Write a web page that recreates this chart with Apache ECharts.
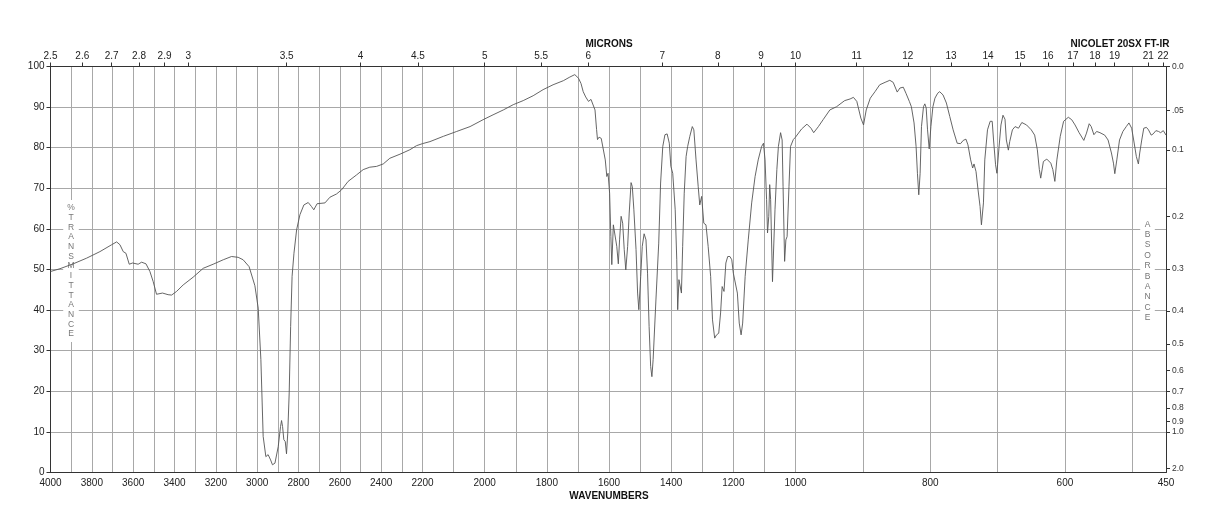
<!DOCTYPE html>
<html>
<head>
<meta charset="utf-8">
<script src="https://cdn.jsdelivr.net/npm/echarts@6/dist/echarts.min.js"></script>
<style>
html, body { margin: 0; padding: 0; background: #fff; }
#main { width: 1218px; height: 528px; }
</style>
</head>
<body>
<div id="main"></div>
<script>
// spectrum (cm-1, %T)
var wavenumbers = [
  4000, 3954, 3890, 3825, 3761, 3704, 3680, 3664, 3648, 3635, 3619, 3603, 3576, 3559, 3538, 3519,
  3503, 3487, 3458, 3431, 3414, 3390, 3358, 3310, 3261, 3213, 3164, 3124, 3092, 3068, 3039, 3011,
  2995, 2982, 2971, 2958, 2947, 2935, 2926, 2914, 2898, 2887, 2882, 2877, 2871, 2864, 2858, 2852,
  2845, 2838, 2831, 2822, 2809, 2793, 2774, 2753, 2737, 2726, 2710, 2672, 2648, 2616, 2592, 2560,
  2519, 2487, 2455, 2422, 2390, 2358, 2309, 2261, 2229, 2200,
  2176, 2133, 2090, 2047, 2005, 1973, 1940, 1908, 1876, 1844, 1812, 1780, 1747, 1726, 1710, 1698,
  1690, 1683, 1675, 1666, 1658, 1652, 1645, 1640, 1637, 1632, 1625, 1620, 1612, 1607, 1603, 1598,
  1594, 1591, 1586, 1580, 1575, 1570, 1566, 1561, 1556, 1551, 1546, 1540, 1535, 1529, 1525, 1520,
  1513, 1508, 1504, 1498, 1493, 1487, 1481, 1476, 1471, 1466, 1462, 1458, 1449, 1440, 1434, 1427,
  1420, 1413, 1406, 1401, 1395, 1391, 1387, 1382, 1379, 1375, 1372, 1367, 1363, 1358, 1352, 1347,
  1340, 1332, 1327, 1320, 1313, 1308, 1302, 1295, 1288, 1281, 1273, 1267, 1260, 1254, 1247, 1241,
  1236, 1230, 1224, 1218, 1211, 1205, 1200, 1194, 1187, 1181, 1175, 1170, 1162, 1152, 1141, 1130,
  1120, 1109, 1103, 1098, 1093, 1090, 1086, 1083, 1080, 1074, 1066, 1060, 1055, 1048, 1043, 1040,
  1035, 1031, 1027, 1021, 1016, 1007, 1000,
  998, 991, 983, 977, 973, 966, 959, 949, 939, 927, 919, 914, 909, 903, 899, 895,
  889, 882, 875, 867, 860, 855, 849, 845, 840, 836, 831, 828, 824, 821, 819, 817,
  815, 813, 810, 808, 806, 804, 801.5, 799, 796, 793, 789, 786, 781, 776, 771, 766,
  760, 755, 751, 747, 744, 740, 737, 735, 732, 729, 726, 724, 721, 719, 715, 711,
  708, 706, 703, 701, 698, 695, 692, 689, 687, 684, 682, 678, 674, 669, 664, 657,
  650, 645, 641, 638, 636, 632, 627, 621, 618, 615, 612, 607, 602, 595, 590, 585,
  579, 572, 568, 564, 561, 557, 553, 548, 541, 536, 531, 528, 526, 523, 519, 514,
  509, 505, 501, 498, 494, 491, 489, 486, 483, 479, 476, 472, 469, 465, 461, 458,
  454, 450
];
var transmittance = [
  49.5, 50.2, 51.4, 52.8, 54.4, 56.1, 56.8, 56.1, 54.4, 54.0, 51.3, 51.6, 51.3, 51.8, 51.4, 49.5,
  47.0, 43.9, 44.2, 43.8, 43.7, 44.6, 46.2, 48.1, 50.3, 51.3, 52.4, 53.2, 53.0, 52.4, 50.7, 46.0,
  40.5, 27.8, 8.9, 3.9, 4.4, 3.1, 1.9, 2.3, 6.4, 11.3, 12.8, 11.3, 8.1, 7.6, 4.6, 9.7,
  19.6, 36.0, 48.3, 54.0, 59.8, 63.5, 65.9, 66.5, 65.5, 64.7, 66.2, 66.4, 67.8, 68.6, 69.6, 71.7,
  73.3, 74.6, 75.2, 75.4, 76.0, 77.4, 78.4, 79.5, 80.5, 81.0,
  81.5, 82.8, 84.0, 85.2, 86.9, 88.1, 89.3, 90.6, 91.6, 92.8, 94.3, 95.5, 96.5, 97.4, 98.0, 97.1,
  95.8, 93.8, 92.5, 91.4, 91.9, 91.6, 89.3, 84.5, 82.0, 82.6, 82.3, 82.0, 77.0, 72.9, 73.7, 68.8,
  58.1, 51.2, 61.0, 61.4, 55.7, 51.4, 57.3, 63.1, 61.4, 54.9, 49.9, 55.7, 63.9, 71.4, 70.4, 64.7,
  54.9, 44.2, 40.1, 48.3, 55.7, 58.8, 57.3, 49.1, 36.0, 26.1, 23.6, 27.8, 42.5, 56.5, 71.3, 80.3,
  83.2, 83.4, 81.1, 75.4, 73.7, 73.3, 64.7, 52.4, 40.1, 47.5, 47.9, 44.2, 55.7, 68.8, 77.8, 80.3,
  82.8, 85.2, 84.4, 77.0, 70.4, 65.9, 68.0, 61.4, 61.0, 55.7, 48.3, 37.6, 33.1, 33.9, 34.3, 39.3,
  45.8, 44.6, 51.6, 53.2, 53.2, 52.4, 49.1, 48.7, 44.2, 36.8, 33.9, 36.8, 48.3, 57.3, 66.4, 72.9,
  77.0, 80.3, 81.1, 77.0, 67.2, 59.0, 63.1, 70.9, 67.2, 47.0, 64.7, 74.6, 80.3, 83.7, 81.9, 70.4,
  52.0, 57.3, 58.1, 70.4, 80.3, 82.0, 82.6,
  82.8, 84.6, 85.8, 84.8, 83.7, 85.2, 86.9, 89.3, 90.1, 91.6, 92.0, 92.4, 91.4, 87.3, 85.6, 89.3,
  92.2, 93.8, 95.5, 96.1, 96.6, 96.1, 93.7, 94.7, 94.9, 93.4, 91.4, 90.1, 86.1, 80.3, 73.7, 68.4,
  73.7, 85.2, 90.1, 90.8, 89.8, 84.4, 79.7, 85.2, 90.1, 92.2, 93.4, 93.8, 93.0, 91.0, 87.7, 84.4,
  81.1, 81.0, 81.8, 82.1, 80.7, 77.0, 75.0, 76.0, 74.1, 69.6, 65.5, 61.0, 66.4, 77.0, 84.4, 86.5,
  86.5, 81.9, 75.8, 73.7, 79.9, 85.6, 88.0, 87.0, 81.9, 79.4, 81.5, 84.4, 85.2, 84.8, 86.2, 85.6,
  84.4, 83.1, 79.5, 74.6, 72.5, 76.6, 77.2, 76.2, 74.6, 71.7, 77.0, 82.8, 86.5, 87.5, 86.9, 85.6,
  83.7, 81.8, 83.6, 85.9, 85.2, 83.2, 84.0, 83.7, 83.1, 81.9, 78.7, 76.2, 73.6, 77.0, 81.9, 84.0,
  85.2, 86.1, 84.8, 81.9, 77.8, 76.0, 78.7, 81.9, 84.8, 85.0, 84.4, 83.1, 83.4, 84.2, 84.0, 83.7,
  84.2, 83.1
];

// the wavenumber scale changes at 2200 and 1000
var segments = [[4000, 2200], [2200, 1000], [1000, 450]];
var wnLabels = [
  [4000, 3800, 3600, 3400, 3200, 3000, 2800, 2600, 2400, 2200],
  [2000, 1800, 1600, 1400, 1200, 1000],
  [800, 600, 450]
];
var microns = [2.5, 2.6, 2.7, 2.8, 2.9, 3, 3.5, 4, 4.5, 5, 5.5, 6, 7, 8, 9, 10,
  11, 12, 13, 14, 15, 16, 17, 18, 19, 21, 22];
var absorbance = [0, 0.05, 0.1, 0.2, 0.3, 0.4, 0.5, 0.6, 0.7, 0.8, 0.9, 1.0, 2.0];
var absorbanceLabels = ['0.0', '.05', '0.1', '0.2', '0.3', '0.4', '0.5', '0.6', '0.7', '0.8', '0.9', '1.0', '2.0'];

var FONT = 'Liberation Sans';
var GRIDLINE = '#a8a8a8';
var AXIS = '#333';
var boxes = [{ left: 50.5, width: 372 }, { left: 422.5, width: 373 }, { left: 795.5, width: 370.5 }];

var grids = [], xAxes = [], yAxes = [], series = [];
var usedMicrons = {};

segments.forEach(function (seg, i) {
  var hi = seg[0], lo = seg[1];
  grids.push({ left: boxes[i].left, width: boxes[i].width, top: 66.5, height: 406, outerBoundsMode: 'none' });

  var ticks = [];
  for (var w = Math.ceil(lo / 100) * 100; w <= hi; w += 100) ticks.push(w);

  var mTicks = [];
  microns.forEach(function (m) {
    var wn = 10000 / m;
    if (wn >= lo - 0.01 && wn <= hi + 0.01 && !usedMicrons[m]) { usedMicrons[m] = true; mTicks.push(wn); }
  });

  xAxes.push({
    gridIndex: i, type: 'value', min: lo, max: hi, inverse: true, position: 'bottom',
    axisLine: { show: true, onZero: false, lineStyle: { color: AXIS, width: 1 } },
    axisTick: { show: false, customValues: ticks },
    axisLabel: { customValues: wnLabels[i], margin: 6, fontSize: 10, color: '#222', fontFamily: FONT,
      formatter: function (v) { return String(v); } },
    splitLine: { show: true, lineStyle: { color: GRIDLINE, width: 1 } }
  });
  xAxes.push({
    gridIndex: i, type: 'value', min: lo, max: hi, inverse: true, position: 'top',
    axisLine: { show: true, onZero: false, lineStyle: { color: AXIS, width: 1 } },
    axisTick: { show: true, customValues: mTicks, length: 4, lineStyle: { color: AXIS } },
    axisLabel: { customValues: mTicks, margin: 5, fontSize: 10, color: '#222', fontFamily: FONT,
      formatter: function (v) { return String(Math.round(10000 / v * 10) / 10); } },
    splitLine: { show: false }
  });

  yAxes.push({
    gridIndex: i, type: 'value', min: 0, max: 100, interval: 10, position: 'left',
    axisLine: { show: i === 0, lineStyle: { color: AXIS, width: 1 } },
    axisTick: { show: i === 0, length: 4, lineStyle: { color: AXIS } },
    axisLabel: { show: i === 0, margin: 6, fontSize: 10, color: '#222', fontFamily: FONT },
    splitLine: { show: true, lineStyle: { color: GRIDLINE, width: 1 } }
  });

  var pts = [];
  wavenumbers.forEach(function (wn, k) {
    if (wn >= lo && wn <= hi) pts.push([wn, transmittance[k]]);
  });
  series.push({
    type: 'line', xAxisIndex: i * 2, yAxisIndex: i, data: pts,
    showSymbol: false, symbol: 'none', smooth: false, silent: true,
    lineStyle: { color: '#555', width: 0.9 }
  });
});

// absorbance scale on the right edge
var absT = absorbance.map(function (a) { return 100 * Math.pow(10, -a); });
yAxes.push({
  gridIndex: 2, type: 'value', min: 0, max: 100, position: 'right',
  axisLine: { show: true, lineStyle: { color: AXIS, width: 1 } },
  axisTick: { show: true, customValues: absT, length: 4, lineStyle: { color: AXIS } },
  axisLabel: { customValues: absT, margin: 6, fontSize: 8.5, color: '#333', fontFamily: FONT,
    formatter: function (v) {
      var best = 0;
      absT.forEach(function (t, k) { if (Math.abs(t - v) < Math.abs(absT[best] - v)) best = k; });
      return absorbanceLabels[best];
    } },
  splitLine: { show: false }
});

function vertical(word) { return word.split('').join('\n'); }

var option = {
  animation: false,
  backgroundColor: '#fff',
  textStyle: { fontFamily: FONT },
  grid: grids,
  xAxis: xAxes,
  yAxis: yAxes,
  series: series,
  graphic: [
    { type: 'text', x: 609, y: 44, z: 10,
      style: { text: 'MICRONS', align: 'center', verticalAlign: 'middle', fill: '#111',
        font: 'bold 10px "Liberation Sans"' } },
    { type: 'text', x: 1120, y: 44, z: 10,
      style: { text: 'NICOLET 20SX FT-IR', align: 'center', verticalAlign: 'middle', fill: '#111',
        font: 'bold 10px "Liberation Sans"' } },
    { type: 'text', x: 609, y: 496, z: 10,
      style: { text: 'WAVENUMBERS', align: 'center', verticalAlign: 'middle', fill: '#111',
        font: 'bold 10px "Liberation Sans"' } },
    { type: 'text', x: 71, y: 271, z: 1,
      style: { text: vertical('%TRANSMITTANCE'), align: 'center', verticalAlign: 'middle', fill: '#777',
        font: '8.5px "Liberation Sans"', lineHeight: 9.7, backgroundColor: '#fff', padding: [3, 4] } },
    { type: 'text', x: 1147.5, y: 271, z: 1,
      style: { text: vertical('ABSORBANCE'), align: 'center', verticalAlign: 'middle', fill: '#777',
        font: '8.5px "Liberation Sans"', lineHeight: 10.4, backgroundColor: '#fff', padding: [4, 4] } }
  ]
};

var myChart = echarts.init(document.getElementById('main'));
myChart.setOption(option);
window.onresize = myChart.resize;
</script>
</body>
</html>
